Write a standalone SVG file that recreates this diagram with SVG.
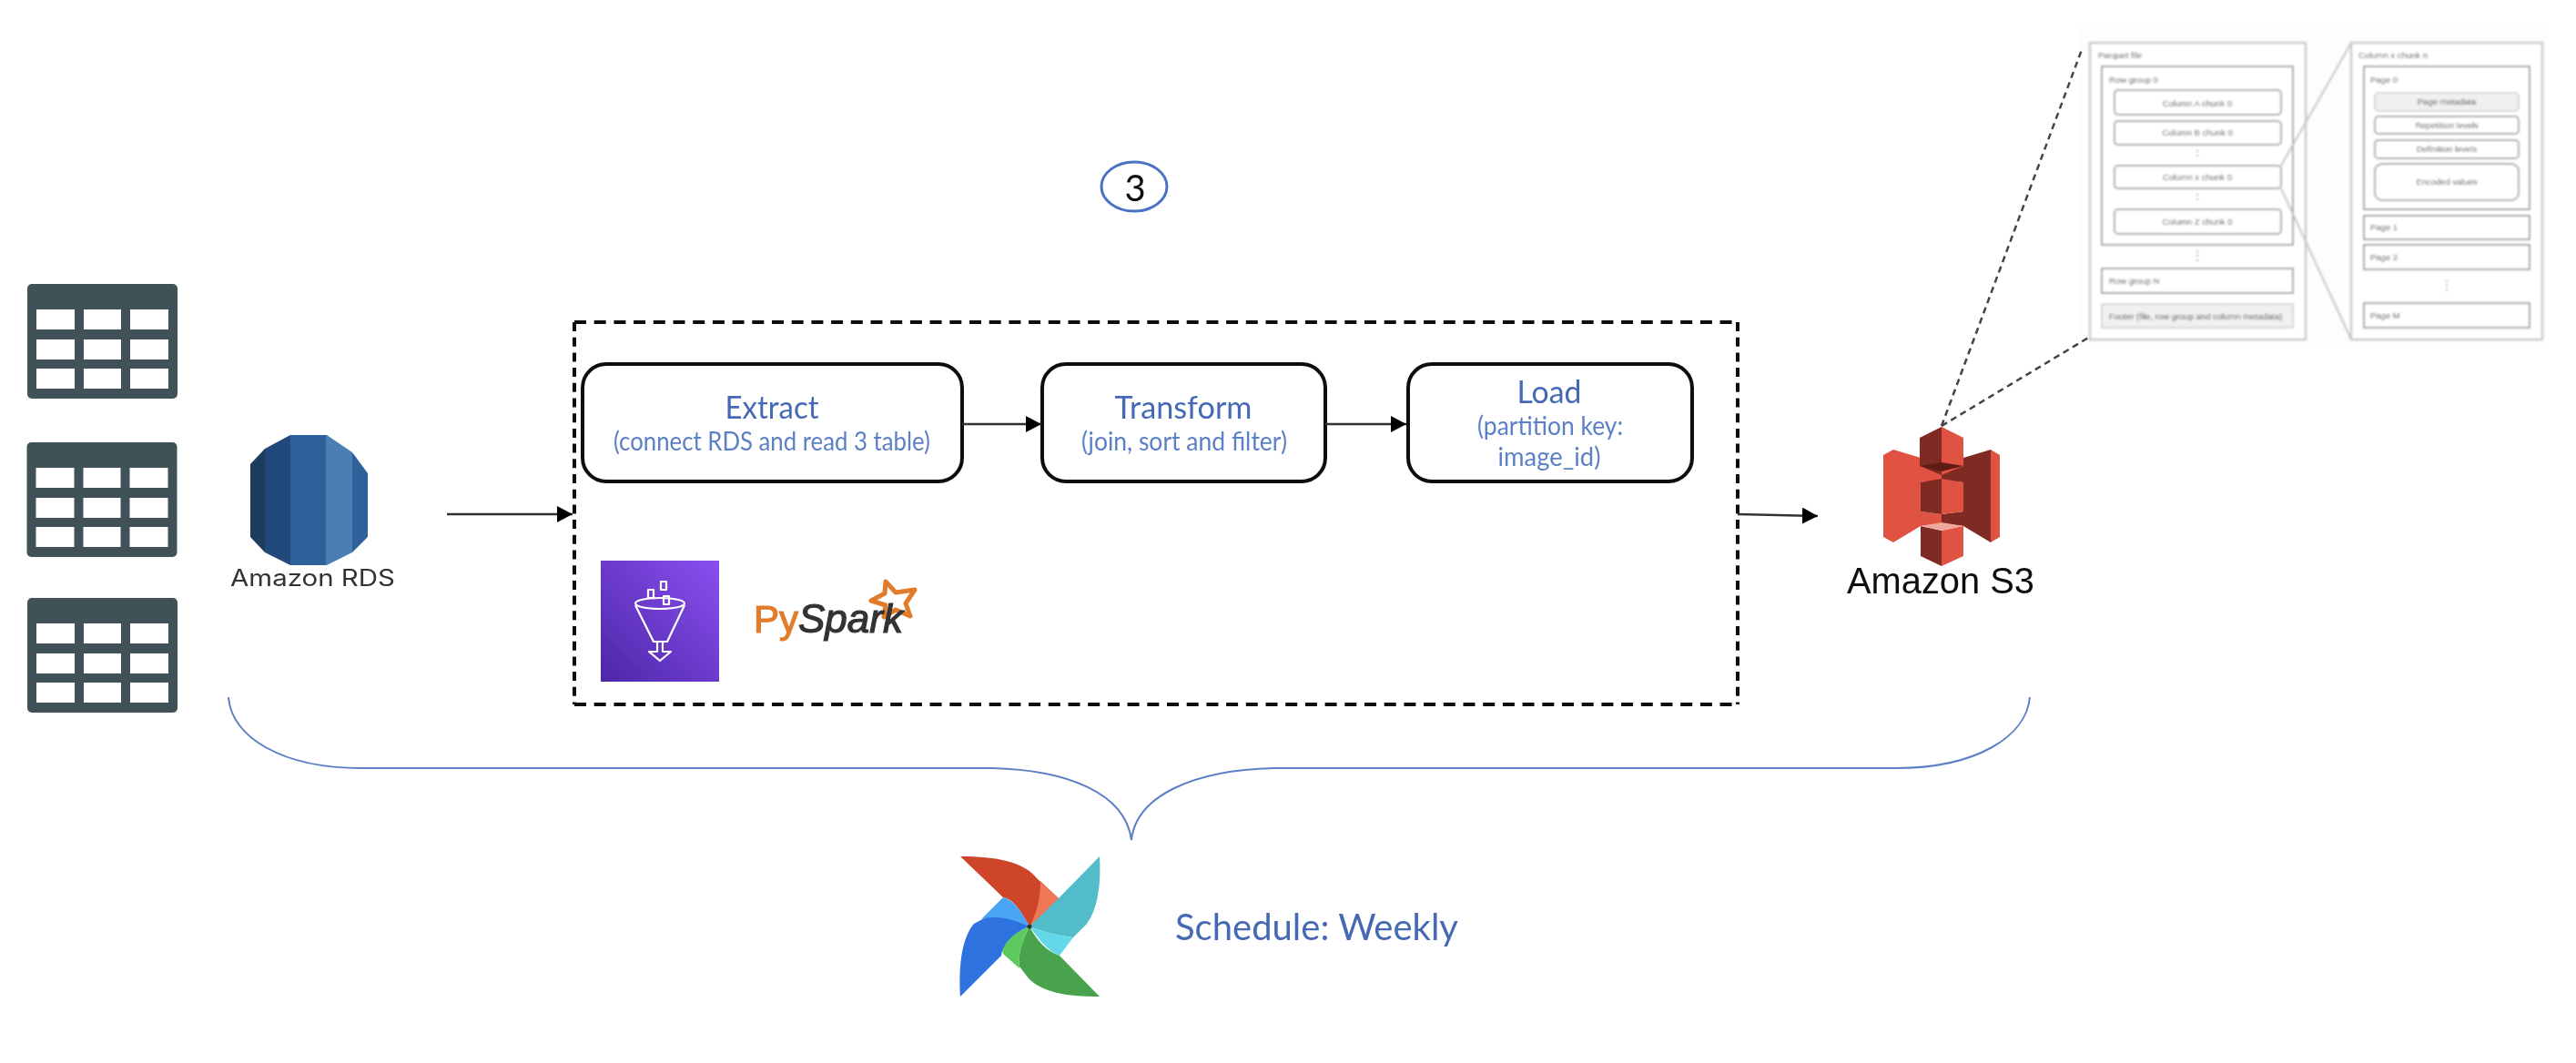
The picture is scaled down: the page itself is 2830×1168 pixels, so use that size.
<svg xmlns="http://www.w3.org/2000/svg" width="2830" height="1168" viewBox="0 0 2830 1168">
<style>
.tbl{fill:#405159}.cell{fill:#fff}
.step{fill:#fff;stroke:#111;stroke-width:4}
.t1{font-family:"Lato","Open Sans",sans-serif;fill:#4569b5;font-size:34px;text-anchor:middle}
.t2{font-family:"Lato","Open Sans",sans-serif;fill:#5b80c6;font-size:28px;text-anchor:middle}
.arr{fill:none;stroke:#333;stroke-width:2.5;marker-end:url(#ah)}
.dh{fill:none;stroke:#111;stroke-width:4;stroke-dasharray:13 8.7}
.dv{fill:none;stroke:#111;stroke-width:4;stroke-dasharray:10 6.7}
.zoomline{fill:none;stroke:#444;stroke-width:2.5;stroke-dasharray:7 5}
.pl{fill:none;stroke:#c4c4c1;stroke-width:2}
.o{fill:#fff;stroke:#c9c9c6;stroke-width:2.5}
.b{fill:#fff;stroke:#a0a0a0;stroke-width:2}
.r{fill:#fff;stroke:#a8a8a8;stroke-width:2}
.m{fill:#f0f0f0;stroke:#d6d6d6;stroke-width:2}
.s{font-family:"Liberation Sans",Arial,sans-serif;font-size:9.5px;fill:#555}
.sc{font-family:"Liberation Sans",Arial,sans-serif;font-size:9.5px;fill:#555;text-anchor:middle}
.dots{fill:none;stroke:#aaa;stroke-width:2;stroke-dasharray:2 3}
.rd{fill:#e05243}.dk{fill:#7f2b20}
</style>
<defs>
<marker id="ah" markerUnits="userSpaceOnUse" markerWidth="17" markerHeight="18" viewBox="0 0 17 18" refX="17" refY="9" orient="auto"><path d="M0 0L17 9L0 18Z" fill="#000"/></marker>
<linearGradient id="glue" x1="0" y1="1" x2="1" y2="0"><stop offset="0" stop-color="#4d27a8"/><stop offset="1" stop-color="#8a4ff0"/></linearGradient>
<filter id="soft" filterUnits="userSpaceOnUse" x="2270" y="20" width="540" height="375"><feGaussianBlur stdDeviation="0.8"/></filter>
<filter id="all" filterUnits="userSpaceOnUse" x="0" y="0" width="2830" height="1168"><feGaussianBlur stdDeviation="0.6"/></filter>
<g id="tablebase">
<rect x="0" y="0" width="165" height="126" rx="5" class="tbl"/>
<rect x="10" y="28" width="42" height="22" class="cell"/><rect x="62" y="28" width="41" height="22" class="cell"/><rect x="113" y="28" width="42" height="22" class="cell"/>
<rect x="10" y="61" width="42" height="22" class="cell"/><rect x="62" y="61" width="41" height="22" class="cell"/><rect x="113" y="61" width="42" height="22" class="cell"/>
<rect x="10" y="93" width="42" height="22" class="cell"/><rect x="62" y="93" width="41" height="22" class="cell"/><rect x="113" y="93" width="42" height="22" class="cell"/>
</g>
</defs>
<rect width="2830" height="1168" fill="#fff"/>
<g id="diagram" filter="url(#all)">

<g id="table-1"><use href="#tablebase" x="30" y="312"/></g>
<g id="table-2"><use href="#tablebase" x="29.500" y="486"/></g>
<g id="table-3"><use href="#tablebase" x="30" y="657"/></g>

<g id="amazon-rds">
<clipPath id="rdsclip"><path d="M319 478L359 478L387 497L404 520L404 590L387 607L359 621L319 621L291 607L275 590L275 510L291 493Z"/></clipPath>
<g clip-path="url(#rdsclip)">
<rect x="275" y="478" width="16" height="143" fill="#1f3d5c"/>
<rect x="291" y="478" width="28" height="143" fill="#24487b"/>
<rect x="319" y="478" width="39" height="143" fill="#2e6199"/>
<rect x="358" y="478" width="29" height="143" fill="#4a7fb3"/>
<rect x="387" y="478" width="17" height="143" fill="#2e6199"/>
</g>
<text x="253" y="644" font-family="Inter,'Open Sans',sans-serif" font-size="25" fill="#333" textLength="181" lengthAdjust="spacingAndGlyphs">Amazon RDS</text>
</g>

<g id="step-badge">
<ellipse cx="1246" cy="205" rx="36" ry="27" fill="#fff" stroke="#4a72c4" stroke-width="3"/>
<text x="1247" y="221" font-family="Lato,sans-serif" font-size="40" fill="#111" text-anchor="middle">3</text>
</g>

<g id="glue-job-frame">
<path class="dh" d="M631 354H1909"/><path class="dh" d="M631 774H1909"/>
<path class="dv" d="M631 354V774"/><path class="dv" d="M1909 354V774"/>
</g>

<g id="extract">
<rect class="step" x="640" y="400" width="417" height="129" rx="26"/>
<text class="t1" x="848" y="460" textLength="103" lengthAdjust="spacingAndGlyphs">Extract</text>
<text class="t2" x="848" y="495" textLength="348" lengthAdjust="spacingAndGlyphs">(connect RDS and read 3 table)</text>
</g>
<g id="transform">
<rect class="step" x="1145" y="400" width="311" height="129" rx="26"/>
<text class="t1" x="1300" y="460" textLength="151" lengthAdjust="spacingAndGlyphs">Transform</text>
<text class="t2" x="1301" y="495" textLength="226" lengthAdjust="spacingAndGlyphs">(join, sort and filter)</text>
</g>
<g id="load">
<rect class="step" x="1547" y="400" width="312" height="129" rx="26"/>
<text class="t1" x="1702" y="443" textLength="71" lengthAdjust="spacingAndGlyphs">Load</text>
<text class="t2" x="1703" y="478" textLength="160" lengthAdjust="spacingAndGlyphs">(partition key:</text>
<text class="t2" x="1702" y="512" textLength="113" lengthAdjust="spacingAndGlyphs">image_id)</text>
</g>

<g id="aws-glue">
<rect x="660" y="616" width="130" height="133" fill="url(#glue)"/>
<g fill="none" stroke="#fff" stroke-width="2.200" stroke-linejoin="round">
<ellipse cx="725" cy="663" rx="27" ry="6"/>
<path d="M698 665L718 705H733L752 665"/>
<path d="M722 705V716H713L725 726L737 716H728V705"/>
<rect x="726" y="639" width="6" height="9"/><rect x="712" y="648" width="6" height="9"/><rect x="729" y="655" width="6" height="9"/>
</g>
</g>

<g id="pyspark">
<path d="M973 639L984 651L1005 648L995 663L1000 677L984 670L971 678L973 665L957 660L972 652Z" fill="none" stroke="#e07c2c" stroke-width="5" stroke-linejoin="round"/>
<text x="828" y="695" font-family="'Liberation Sans',sans-serif" font-size="44" stroke-width="1.200"><tspan fill="#e07c2c" stroke="#e07c2c" font-size="42">Py</tspan><tspan fill="#333" stroke="#333" font-style="italic">Spark</tspan></text>
</g>

<g id="amazon-s3">
<path class="rd" d="M2069 500L2080 494L2110 503V512L2133 518V528L2110 530V562L2133 565V575L2110 578L2080 596L2069 590Z"/>
<path class="dk" d="M2187 494L2157 503V512L2133 518V528L2157 530V562L2133 565V575L2157 578L2187 596Z"/>
<path class="rd" d="M2187 494L2197 500V590L2187 596Z"/>
<path class="dk" d="M2133 469L2109 481V512L2133 522Z"/>
<path class="rd" d="M2133 469L2157 481V512L2133 522Z"/>
<path d="M2109 512L2133 508L2157 512L2133 518Z" fill="#5e1f18"/>
<path class="dk" d="M2110 530L2133 526V565L2110 562Z"/>
<path class="rd" d="M2133 526L2157 530V562L2133 565Z"/>
<path class="dk" d="M2110 578L2133 583V622L2110 611Z"/>
<path class="rd" d="M2157 578L2133 583V622L2157 611Z"/>
<path d="M2133 574L2110 578L2133 583L2157 578Z" fill="#f0a59d"/>
<text x="2029" y="652" font-family="'Liberation Sans',Arial,sans-serif" font-size="40" fill="#111" textLength="206" lengthAdjust="spacingAndGlyphs">Amazon S3</text>
</g>

<g id="airflow">
<path d="M1055 941C1095 941 1125 947 1139 965L1163 987Q1165 993 1160 997L1131 1018C1118 995 1112 988 1102 986Z" fill="#cf452c"/>
<path d="M1143 968L1163 987Q1165 993 1161 997L1132 1017C1140 1000 1143 985 1143 968Z" fill="#ee7756"/>
<path d="M1208 941C1210 975 1205 1000 1194 1015L1179 1030C1160 1028 1140 1022 1131 1018L1163 987Z" fill="#53bccb"/>
<path d="M1131 1018C1140 1022 1160 1028 1179 1030L1164 1050C1150 1045 1140 1030 1131 1018Z" fill="#63d8e8"/>
<path d="M1208 1095C1170 1095 1145 1090 1130 1075L1120 1062C1118 1045 1125 1030 1131 1018C1140 1035 1150 1045 1164 1050Z" fill="#49a34d"/>
<path d="M1131 1018C1125 1030 1118 1045 1120 1064L1102 1048Q1098 1040 1105 1030Z" fill="#5dca5f"/>
<path d="M1055 1095C1053 1060 1057 1030 1070 1015L1085 1007C1100 1005 1120 1012 1131 1018C1115 1024 1102 1035 1100 1050Z" fill="#2f72e0"/>
<path d="M1102 986L1078 1010C1095 1005 1115 1010 1131 1018C1122 1000 1112 988 1102 986Z" fill="#4aa6f5"/>
<circle cx="1131" cy="1018" r="2.500" fill="#333"/>
</g>
<g id="schedule-label"><text x="1291" y="1033" font-family="Lato,sans-serif" font-size="40" fill="#4569b5" textLength="311" lengthAdjust="spacingAndGlyphs">Schedule: Weekly</text></g>

<g id="brace"><path d="M251 766C254 810 310 844 397 844H1090C1170 846 1236 870 1243 923C1248 875 1310 846 1400 844H2083C2170 844 2226 810 2230 766" fill="none" stroke="#5c7fc6" stroke-width="2"/></g>

<g id="parquet-detail" filter="url(#soft)">
<rect x="2284" y="30" width="513" height="353" fill="#fdfdfb"/>
<g id="parquet-file">
<rect class="o" x="2296" y="47" width="237" height="326"/>
<text class="s" x="2305" y="64">Parquet file</text>
<rect class="b" x="2309" y="73" width="210" height="196"/>
<text class="s" x="2317" y="91">Row group 0</text>
<rect class="r" x="2323" y="99" width="183" height="27" rx="4"/><text class="sc" x="2414" y="117">Column A chunk 0</text>
<rect class="r" x="2323" y="133" width="183" height="26" rx="4"/><text class="sc" x="2414" y="149">Column B chunk 0</text>
<path class="dots" d="M2414 165V175"/>
<rect class="r" x="2323" y="182" width="183" height="25" rx="4"/><text class="sc" x="2414" y="198">Column x chunk 0</text>
<path class="dots" d="M2414 213V223"/>
<rect class="r" x="2323" y="230" width="183" height="27" rx="4"/><text class="sc" x="2414" y="247">Column Z chunk 0</text>
<path class="dots" d="M2414 275V288"/>
<rect class="b" x="2309" y="295" width="210" height="27"/><text class="s" x="2317" y="312">Row group N</text>
<rect class="m" x="2309" y="334" width="210" height="26"/><text class="s" x="2317" y="351">Footer (file, row group and column metadata)</text>
</g>
<g id="column-chunk">
<rect class="o" x="2583" y="47" width="210" height="326"/>
<text class="s" x="2591" y="64">Column x chunk n</text>
<rect class="b" x="2597" y="73" width="182" height="157"/>
<text class="s" x="2604" y="91">Page 0</text>
<rect class="m" x="2609" y="102" width="158" height="20" rx="4"/><text class="sc" x="2688" y="115">Page metadata</text>
<rect class="r" x="2609" y="128" width="158" height="19" rx="4"/><text class="sc" x="2688" y="141">Repetition levels</text>
<rect class="r" x="2609" y="154" width="158" height="20" rx="4"/><text class="sc" x="2688" y="167">Definition levels</text>
<rect class="r" x="2609" y="180" width="158" height="40" rx="8"/><text class="sc" x="2688" y="203">Encoded values</text>
<rect class="b" x="2597" y="237" width="182" height="26"/><text class="s" x="2604" y="253">Page 1</text>
<rect class="b" x="2597" y="269" width="182" height="27"/><text class="s" x="2604" y="286">Page 2</text>
<path class="dots" d="M2688 308V323"/>
<rect class="b" x="2597" y="333" width="182" height="27"/><text class="s" x="2604" y="350">Page M</text>
</g>
<g id="detail-connectors"><path class="pl" d="M2506 182L2583 47"/><path class="pl" d="M2506 207L2583 373"/></g>
</g>

<g id="connectors">
<path class="arr" d="M491 565H629"/>
<path class="arr" d="M1057 466H1144"/>
<path class="arr" d="M1456 466H1545"/>
<path class="arr" d="M1909 565L1997 567"/>
<path class="zoomline" d="M2133 468L2288 52"/>
<path class="zoomline" d="M2133 468L2296 370"/>
</g>
</g>
</svg>
